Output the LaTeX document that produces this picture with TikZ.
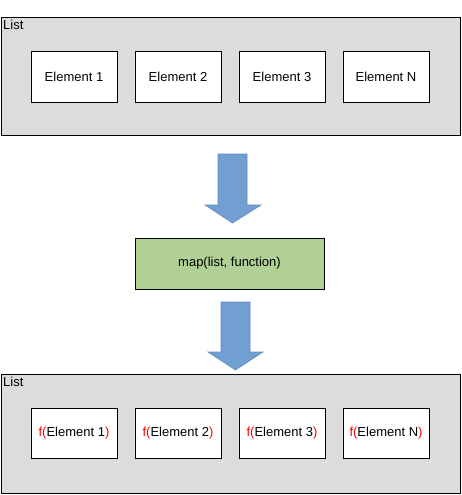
\documentclass[tikz,border=0pt]{standalone}
\usepackage{fontspec}
\setmainfont{Liberation Sans}
\definecolor{listgray}{HTML}{DCDCDC}
\definecolor{mapgreen}{HTML}{B0D095}
\definecolor{arrowblue}{HTML}{719FD2}
\definecolor{arrowedge}{HTML}{5F8CC2}
\tikzset{
  listbox/.style={draw,fill=listgray,line width=1pt,minimum width=459pt,minimum height=118pt,anchor=north west,inner sep=0pt},
  elem/.style={draw,fill=white,line width=1pt,minimum width=86pt,minimum height=50pt,font=\fontsize{13}{15}\selectfont},
  listlabel/.style={anchor=north west,inner sep=0pt,font=\fontsize{13}{15}\selectfont},
  bigarrow/.style={fill=arrowblue,draw=arrowedge,line width=0.6pt},
}
\newcommand{\fof}[1]{\textcolor{red}{f(}#1\textcolor{red}{)}}
\begin{document}
\begin{tikzpicture}[x=1pt,y=-1pt]
\useasboundingbox (0,0) rectangle (462,495);

% input list
\node[listbox] (listin) at (0.5,17) {};
\node[listlabel] (labin) at ([shift={(2.5,3)}]listin.north west) {List};
\node[elem] (e1) at (74,77) {Element 1};
\node[elem] (e2) at (178,77) {Element 2};
\node[elem] (e3) at (282,77) {Element 3};
\node[elem] (eN) at (386,77) {Element N};

% first arrow
\draw[bigarrow] (218,154)--(247,154)--(247,205)--(261,205)--(232.5,223)--(205,205)--(218,205)--cycle;

% map box
\node[draw,fill=mapgreen,line width=1pt,minimum width=189pt,minimum height=51pt,font=\fontsize{13}{15}\selectfont] (map) at (229.5,263.5) {map(list, function)};

% second arrow
\draw[bigarrow] (221,302)--(250,302)--(250,352)--(263,352)--(235.5,370)--(208,352)--(221,352)--cycle;

% output list
\node[listbox,minimum height=119pt] (listout) at (0.5,374) {};
\node[listlabel] (labout) at ([shift={(2.5,3)}]listout.north west) {List};
\node[elem] (f1) at (74,433.5) {\fof{Element 1}};
\node[elem] (f2) at (178,433.5) {\fof{Element 2}};
\node[elem] (f3) at (282,433.5) {\fof{Element 3}};
\node[elem] (fN) at (386,433.5) {\fof{Element N}};

\end{tikzpicture}
\end{document}
